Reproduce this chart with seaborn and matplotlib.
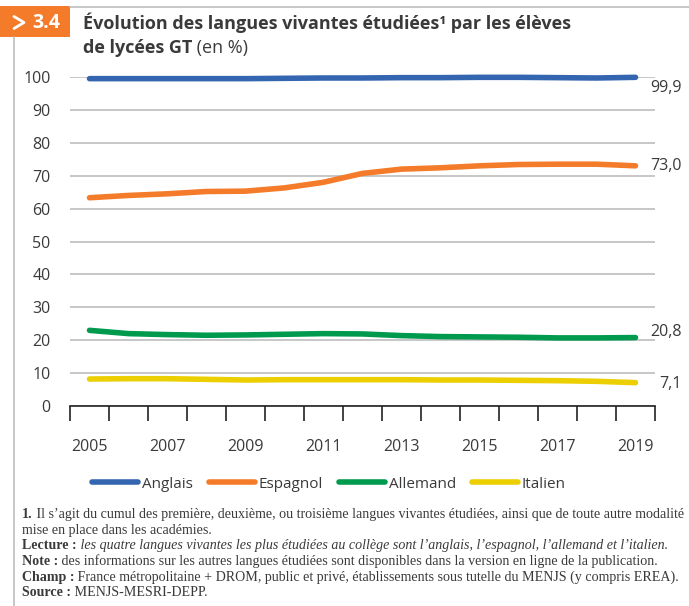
import matplotlib
matplotlib.use("Agg")
import matplotlib.pyplot as plt
from matplotlib.patches import Rectangle
from matplotlib.lines import Line2D
import seaborn as sns
import pandas as pd

# data
years = list(range(2005, 2020))
anglais = [99.5, 99.5, 99.5, 99.5, 99.5, 99.6, 99.7, 99.7, 99.8, 99.8, 99.9, 99.9, 99.8, 99.7, 99.9]
espagnol = [63.3, 64.0, 64.5, 65.2, 65.3, 66.3, 68.0, 70.7, 72.0, 72.4, 73.0, 73.4, 73.5, 73.5, 73.0]
allemand = [23.0, 22.0, 21.7, 21.5, 21.6, 21.8, 22.0, 21.9, 21.4, 21.1, 21.0, 20.9, 20.7, 20.7, 20.8]
italien = [8.2, 8.3, 8.3, 8.1, 7.9, 8.0, 8.0, 8.0, 8.0, 7.9, 7.9, 7.8, 7.7, 7.5, 7.1]
langues = ["Anglais", "Espagnol", "Allemand", "Italien"]
end_labels = ["99,9", "73,0", "20,8", "7,1"]
colors = ["#3465B0", "#F47B29", "#009A4E", "#EBCF00"]

df = pd.DataFrame({
    "annee": years * 4,
    "valeur": anglais + espagnol + allemand + italien,
    "langue": [l for l in langues for _ in years],
})

sns.set_style("white")
plt.rcParams["font.family"] = ["Open Sans", "DejaVu Sans"]
TXT = "#3a3a3a"

W, H = 689, 606
fig = plt.figure(figsize=(W / 100, H / 100), dpi=100)


def fx(px):
    return px / W


def fy(py):
    return 1 - py / H


ax = fig.add_axes([fx(70), fy(406), fx(655) - fx(70), fy(77) - fy(406)])

sns.lineplot(data=df, x="annee", y="valeur", hue="langue", hue_order=langues,
             palette=colors, linewidth=4, legend=False, ax=ax)
for ln in ax.lines:
    ln.set_solid_capstyle("round")
    ln.set_clip_on(False)
    ln.set_zorder(3)

ax.set_xlim(2004.5, 2019.5)
ax.set_ylim(0, 100)
ax.set_yticks(range(0, 101, 10))
ax.set_xticks(years[::2])
ax.set_xticks([y - 0.5 for y in years] + [2019.5], minor=True)
ax.set_xlabel("")
ax.set_ylabel("")
ax.grid(axis="y", color="#BDBDBD", linewidth=1.2)
ax.set_axisbelow(True)
for s in ["top", "right", "left"]:
    ax.spines[s].set_visible(False)
ax.spines["bottom"].set_color("#222222")
ax.spines["bottom"].set_linewidth(1.2)
ax.tick_params(axis="y", length=0, pad=14, labelsize=11.5, labelcolor=TXT)
ax.tick_params(axis="x", which="major", bottom=False, pad=20, labelsize=11.5, labelcolor=TXT)
ax.tick_params(axis="x", which="minor", bottom=True, length=11, width=1.2, color="#222222",
               direction="out")

# end labels
offsets = [-8, 0, 4, -1]
for serie, lab, off in zip([anglais, espagnol, allemand, italien], end_labels, offsets):
    ax.annotate(lab, xy=(2019.5, serie[-1]), xytext=(19.5, off), textcoords="offset points",
                ha="right", va="center", fontsize=11.5, color=TXT, annotation_clip=False)

# legend
handles = [Line2D([], [], color=c, linewidth=4, solid_capstyle="round") for c in colors]
leg = fig.legend(handles, langues, loc="center", bbox_to_anchor=(fx(329), fy(484)), ncol=4,
                 frameon=False, fontsize=11, handlelength=3.0, handletextpad=0.25,
                 columnspacing=1.05, labelcolor=TXT)

# frame lines
fig.add_artist(Line2D([fx(14), fx(14)], [fy(37), 0], color="#BDBDBD", linewidth=1.2))
fig.add_artist(Line2D([fx(70), 1], [fy(7), fy(7)], color="#BDBDBD", linewidth=1.2))

# badge
fig.add_artist(Rectangle((0, fy(37)), fx(70), fy(6) - fy(37), color="#F47B29", lw=0))
fig.add_artist(Line2D([fx(14), fx(24), fx(14)], [fy(16.5), fy(22.5), fy(28.5)],
                      color="white", linewidth=2))
fig.text(fx(32), fy(23), "3.4", color="white", fontsize=14, fontweight="bold", va="center")

renderer = fig.canvas.get_renderer()


def draw_runs(x, y, runs, size, family=None):
    """Draw successive text pieces on one line, each with its own style."""
    for txt, weight, style in runs:
        kw = dict(fontsize=size, fontweight=weight, fontstyle=style, color=TXT, va="baseline")
        if family:
            kw["family"] = family
        t = fig.text(x, y, txt, **kw)
        bb = t.get_window_extent(renderer)
        x = x + bb.width / W


# title
draw_runs(fx(83), fy(29), [("Évolution des langues vivantes étudiées¹ par les élèves", "bold", "normal")], 13)
draw_runs(fx(83), fy(53), [("de lycées GT", "bold", "normal"), (" (en %)", "normal", "normal")], 13)

# footnotes
serif = ["Liberation Serif", "DejaVu Serif"]
fs = 10.1
lines = [
    [("1.", "bold", "normal"),
     (" Il s’agit du cumul des première, deuxième, ou troisième langues vivantes étudiées, ainsi que de toute autre modalité", "normal", "normal")],
    [("mise en place dans les académies.", "normal", "normal")],
    [("Lecture :", "bold", "normal"),
     (" les quatre langues vivantes les plus étudiées au collège sont l’anglais, l’espagnol, l’allemand et l’italien.", "normal", "italic")],
    [("Note :", "bold", "normal"),
     (" des informations sur les autres langues étudiées sont disponibles dans la version en ligne de la publication.", "normal", "normal")],
    [("Champ :", "bold", "normal"),
     (" France métropolitaine + DROM, public et privé, établissements sous tutelle du MENJS (y compris EREA).", "normal", "normal")],
    [("Source :", "bold", "normal"), (" MENJS-MESRI-DEPP.", "normal", "normal")],
]
for i, runs in enumerate(lines):
    draw_runs(fx(22), fy(518 + i * 15.7), runs, fs, family=serif)

fig.savefig("out.png", dpi=100, facecolor="white")
